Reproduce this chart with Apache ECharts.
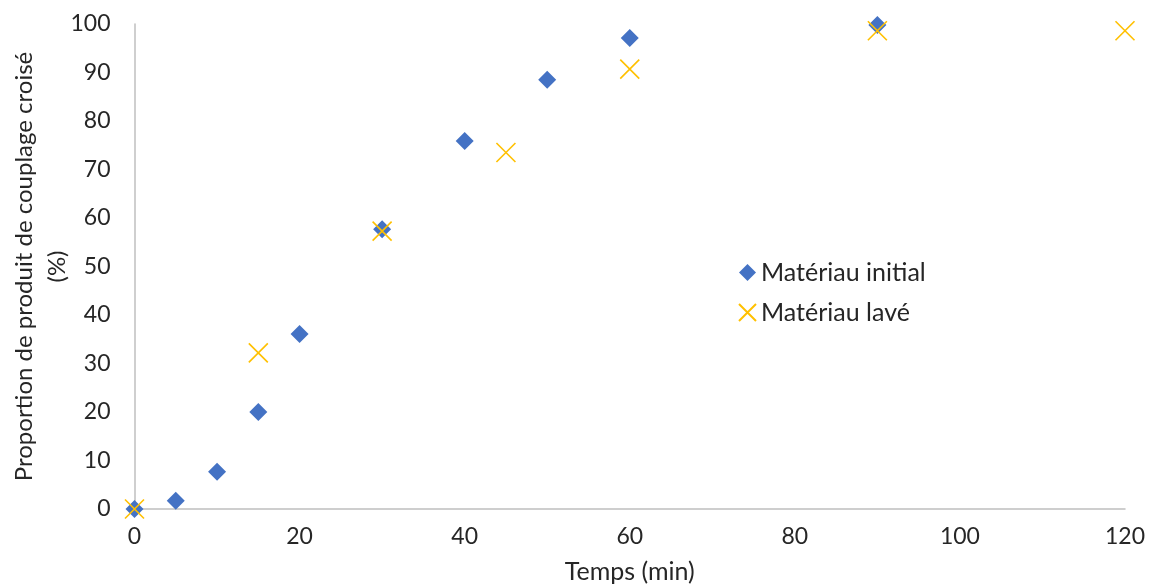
<!DOCTYPE html>
<html>
<head>
<meta charset="utf-8">
<script src="https://cdn.jsdelivr.net/npm/echarts@6/dist/echarts.min.js"></script>
<style>html,body{margin:0;padding:0;background:#fff}#c{width:1149px;height:584px}</style>
</head>
<body>
<div id="c"></div>
<script>
const seriesNames = ['Matériau initial', 'Matériau lavé'];
const initialX = [0, 5, 10, 15, 20, 30, 40, 50, 60, 90];
const initialY = [0, 1.7, 7.7, 20, 36.1, 57.7, 75.9, 88.5, 97.1, 99.8];
const washedX = [0, 15, 30, 45, 60, 90, 120];
const washedY = [0, 32.2, 57.3, 73.5, 90.7, 98.6, 98.6];
const xTitle = 'Temps (min)';
const yTitle = 'Proportion de produit de couplage croisé\n(%)';

const FONT = 'Lato';
const chart = echarts.init(document.getElementById('c'), null, {renderer: 'canvas'});
const xPath = 'path://M0,0L10,10M10,0L0,10';
chart.setOption({
  animation: false,
  textStyle: {fontFamily: FONT},
  grid: {left: 134.5, right: 24, top: 24, bottom: 75, containLabel: false, outerBoundsMode: 'none'},
  legend: {
    orient: 'vertical', left: 733, top: 255, itemGap: 15,
    itemWidth: 17, itemHeight: 17,
    textStyle: {fontSize: 25, color: '#262626', fontFamily: FONT},
    data: seriesNames
  },
  xAxis: {
    type: 'value', min: 0, max: 120, interval: 20,
    name: xTitle, nameLocation: 'middle', nameGap: 50, nameMoveOverlap: false,
    nameTextStyle: {fontSize: 25, color: '#262626'},
    axisLine: {lineStyle: {color: '#bfbfbf', width: 1.5}},
    axisTick: {show: false}, splitLine: {show: false},
    axisLabel: {fontSize: 23, color: '#262626', margin: 16}
  },
  yAxis: {
    type: 'value', min: 0, max: 100, interval: 10,
    name: yTitle, nameLocation: 'middle', nameGap: 61, nameMoveOverlap: false,
    nameTextStyle: {fontSize: 24, color: '#262626', lineHeight: 33},
    axisLine: {show: true, lineStyle: {color: '#bfbfbf', width: 1.5}},
    axisTick: {show: false}, splitLine: {show: false},
    axisLabel: {fontSize: 23, color: '#262626', margin: 24}
  },
  series: [
    {
      name: seriesNames[0], type: 'scatter', symbol: 'diamond', symbolSize: 18,
      itemStyle: {color: '#4472C4', opacity: 1},
      data: initialX.map((x, i) => [x, initialY[i]]), z: 2
    },
    {
      name: seriesNames[1], type: 'scatter', symbol: xPath, symbolSize: 19,
      itemStyle: {color: 'rgba(0,0,0,0)', borderColor: '#FFC000', borderWidth: 1.6, opacity: 1},
      data: washedX.map((x, i) => [x, washedY[i]]), z: 3
    }
  ]
});
</script>
</body>
</html>
